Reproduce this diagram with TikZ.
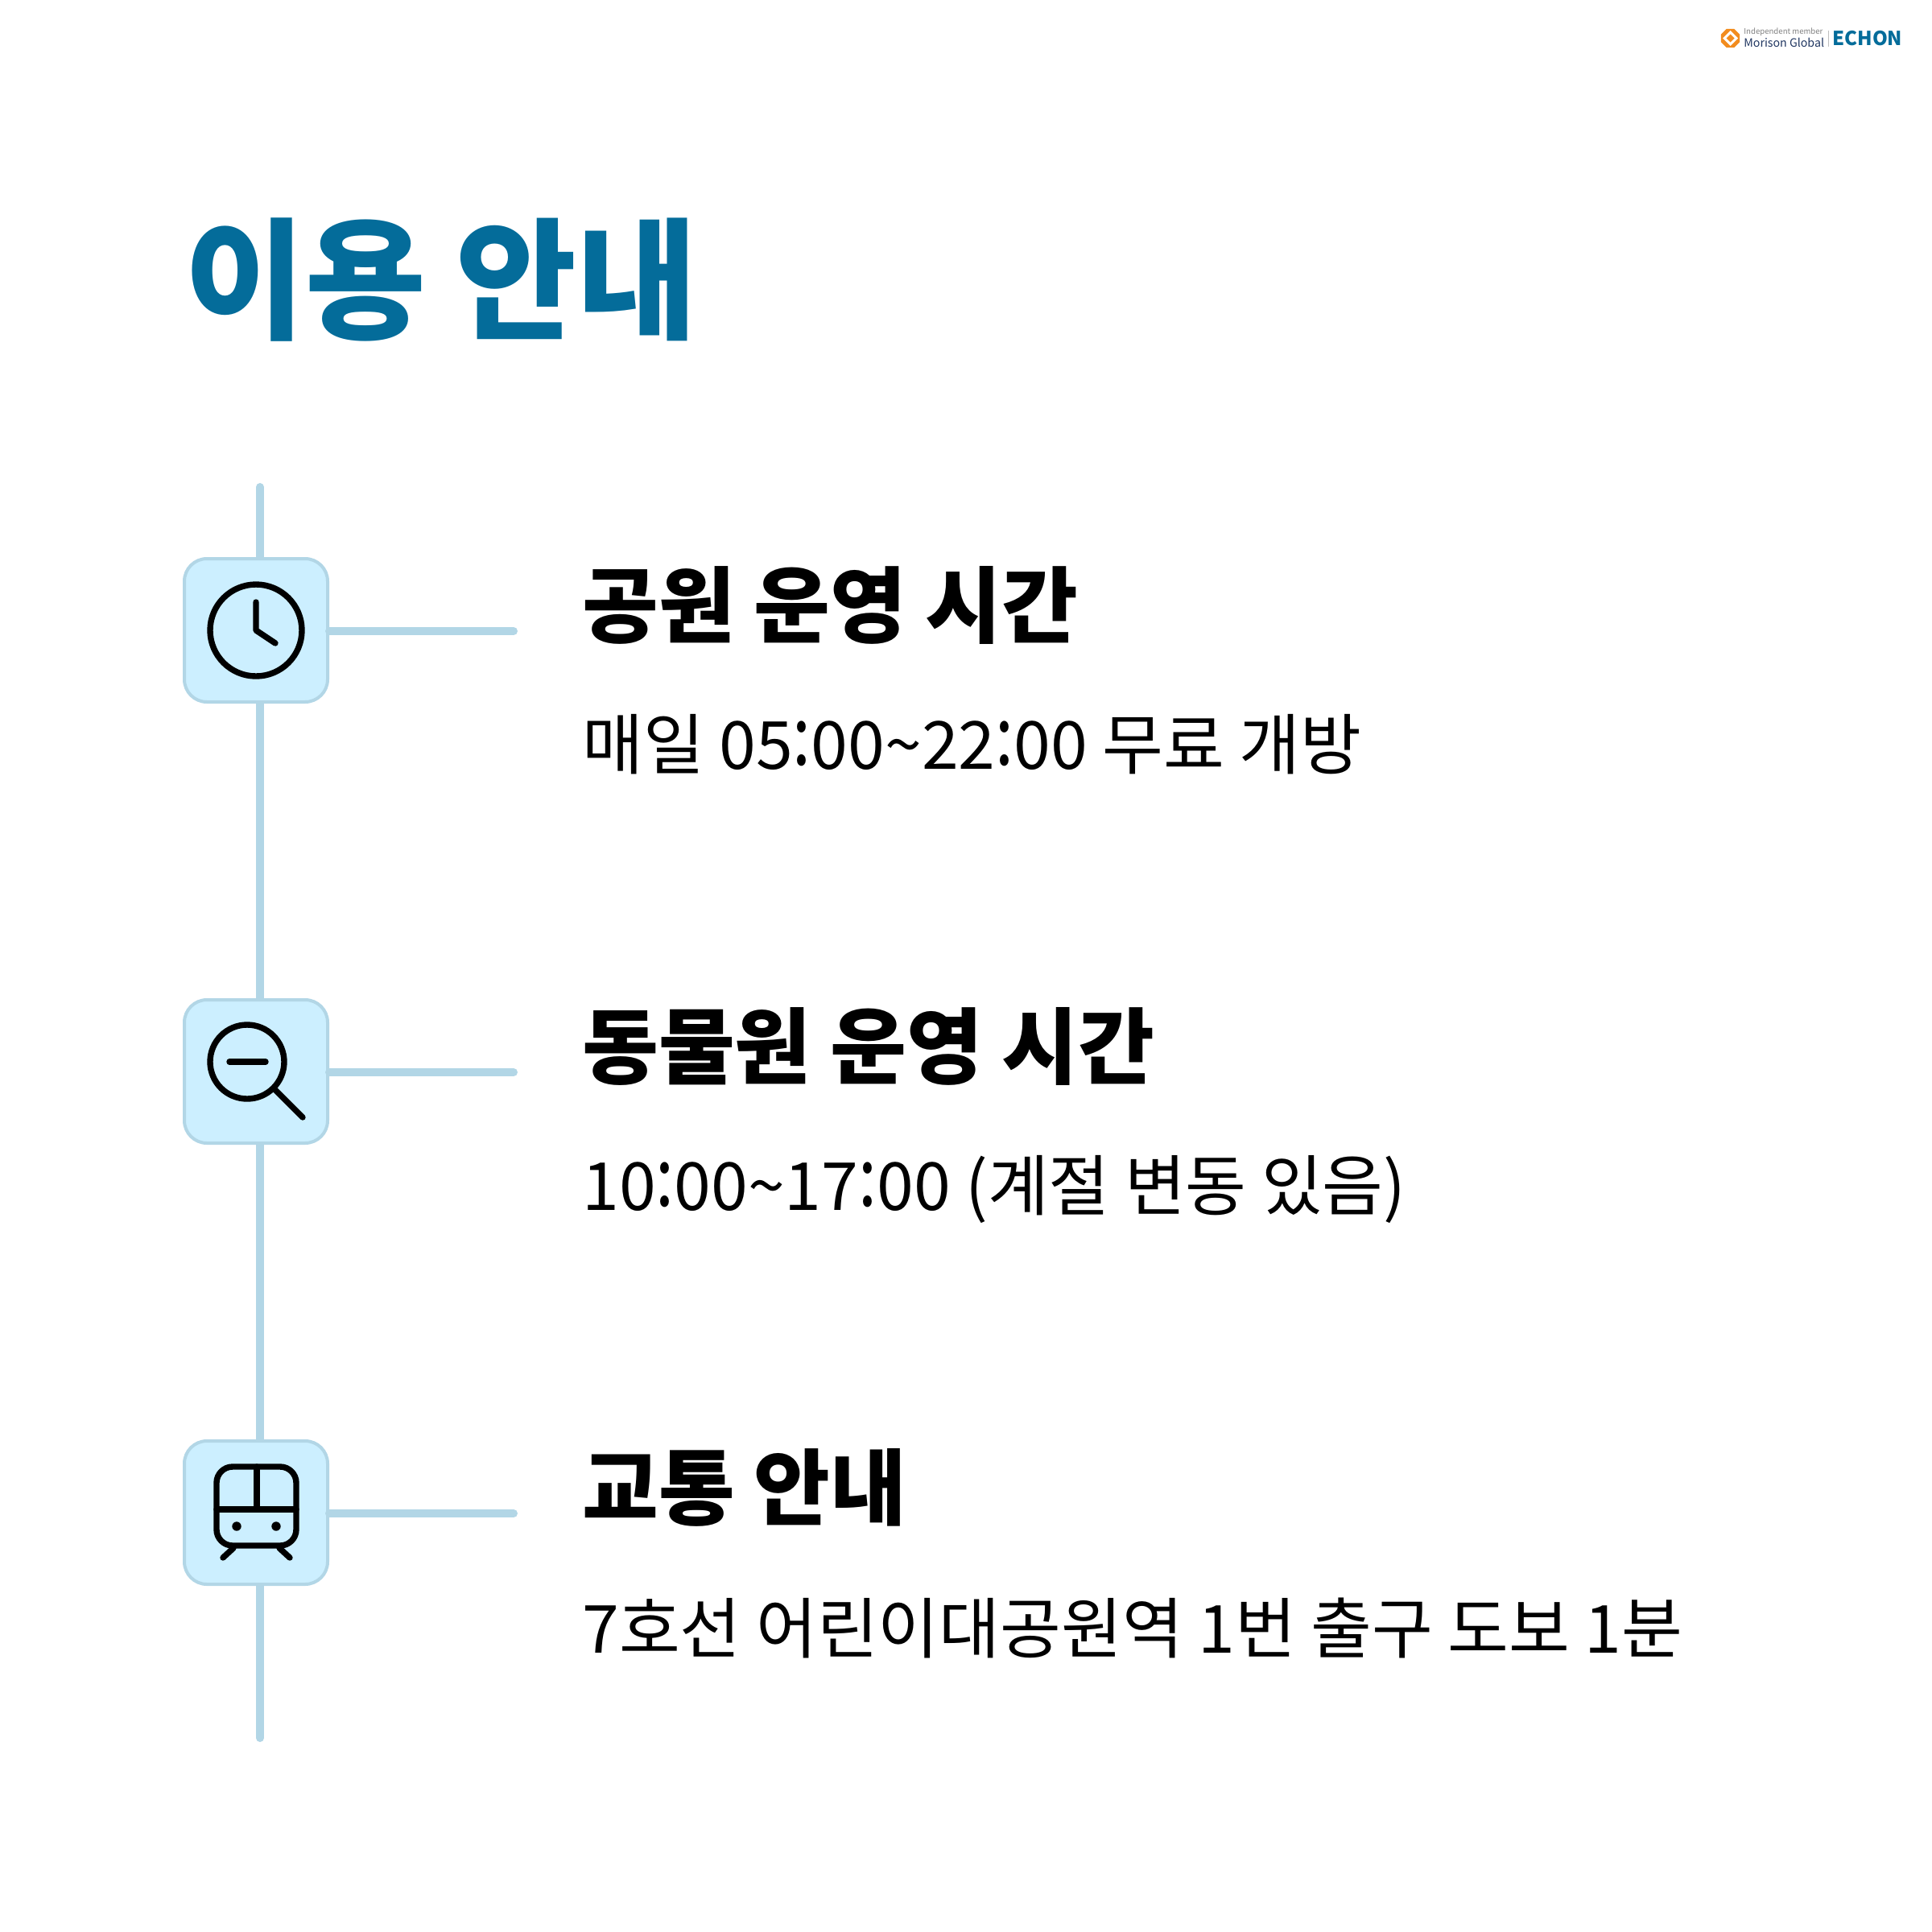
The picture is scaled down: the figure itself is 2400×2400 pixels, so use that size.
\documentclass[tikz,border=0pt]{standalone}
\usepackage{fontspec}
\usetikzlibrary{shapes.geometric}
\setmainfont{Noto Sans CJK KR}
\newcommand{\tcolon}{\raisebox{2.5pt}{\scalebox{1}[1.25]{:}}}
\definecolor{titleblue}{HTML}{046C9A}
\definecolor{linecol}{HTML}{B2D6E6}
\definecolor{boxfill}{HTML}{CCEFFF}
\definecolor{logoorange}{HTML}{F28C1E}
\definecolor{logonavy}{HTML}{1F3560}
\begin{document}
\begin{tikzpicture}[
        x = {0.5pt}, y = {-0.5pt},
        line/.style = {color=linecol, line width=5pt, line cap=round},
        iconbox/.style = {draw=linecol, line width=2pt, fill=boxfill, rounded corners=14pt, minimum size=89pt, inner sep=0pt},
        icon/.style = {color=black, line width=3.7pt, line cap=round, line join=round},
        head/.style = {anchor=west, inner sep=0pt, font=\fontsize{51.5}{52}\selectfont\bfseries},
        body/.style = {anchor=west, inner sep=0pt, font=\fontsize{41.2}{42}\selectfont}
    ]
    \useasboundingbox (0,0) rectangle (2400,2400);
    %--- Draw Logo ---%
        \node (mark) [regular polygon, regular polygon sides=8, fill=logoorange, minimum size=12.5pt, inner sep=0pt] at (2149.5,47.5) {};
        \fill[white] (2149.5,38) -- (2159,47.5) -- (2149.5,57) -- (2140,47.5) -- cycle;
        \fill[logoorange] (2149.5,42.5) -- (2154.5,47.5) -- (2149.5,52.5) -- (2144.5,47.5) -- cycle;
        \node (member) [anchor=west, inner sep=0pt, color=gray, font=\fontsize{4.8}{5}\selectfont] at (2166,40) {Independent member};
        \node (morison) [anchor=west, inner sep=0pt, color=logonavy, font=\fontsize{7.1}{8}\selectfont] at (2166,53) {Morison Global};
        \node (echon) [anchor=west, inner sep=0pt, color=titleblue, font=\fontsize{12}{12}\selectfont\bfseries] at (2276,48) {ECHON};
        \draw[color=lightgray, line width=0.4pt] (2271,38) -- (2271,58);
    %--- Draw Title ---%
        \node (title) [anchor=west, inner sep=0pt, color=titleblue, font=\fontsize{81.5}{82}\selectfont\bfseries] at (229,348) {이용 안내};
    %--- Draw Lines ---%
        \coordinate (top) at (323,605);
        \coordinate (bottom) at (323,2159);
        \draw[line] (top) -- (bottom);
    %--- Draw Boxes ---%
        \node (clock) [iconbox] at (318,783) {};
        \node (zoom) [iconbox] at (318,1331) {};
        \node (train) [iconbox] at (318,1879) {};
        \coordinate (clockend) at (638,784);
        \coordinate (zoomend) at (638,1332);
        \coordinate (trainend) at (638,1880);
        \draw[line] (clock.east |- clockend) -- (clockend);
        \draw[line] (zoom.east |- zoomend) -- (zoomend);
        \draw[line] (train.east |- trainend) -- (trainend);
    %--- Draw Icons ---%
        \draw[icon] (318,783) circle (57);
        \draw[icon] (318,748) -- (318,783) -- (342,799);
        \draw[icon] (307,1319) circle (46);
        \draw[icon] (285,1319) -- (330,1319);
        \draw[icon] (342,1354) -- (376,1388);
        \draw[icon, rounded corners=10pt] (269,1822) rectangle (368,1920);
        \draw[icon] (269,1875) -- (368,1875);
        \draw[icon] (319,1822) -- (319,1875);
        \fill (294,1896) circle (5.7);
        \fill (343,1896) circle (5.7);
        \draw[icon] (290,1923) -- (277,1935);
        \draw[icon] (347,1923) -- (360,1935);
    %--- Draw Labels ---%
        \node (parkhead) [head] at (723,752) {공원 운영 시간};
        \node (parkbody) [body] at (723,925) {매일 05\tcolon 00\textasciitilde 22\tcolon 00 무료 개방};
        \node (zoohead) [head] at (723,1300) {동물원 운영 시간};
        \node (zoobody) [body] at (723,1477) {10\tcolon 00\textasciitilde 17\tcolon 00 (계절 변동 있음)};
        \node (transhead) [head] at (723,1848) {교통 안내};
        \node (transbody) [body] at (723,2022) {7호선 어린이대공원역 1번 출구 도보 1분};
    \end{tikzpicture}
\end{document}
